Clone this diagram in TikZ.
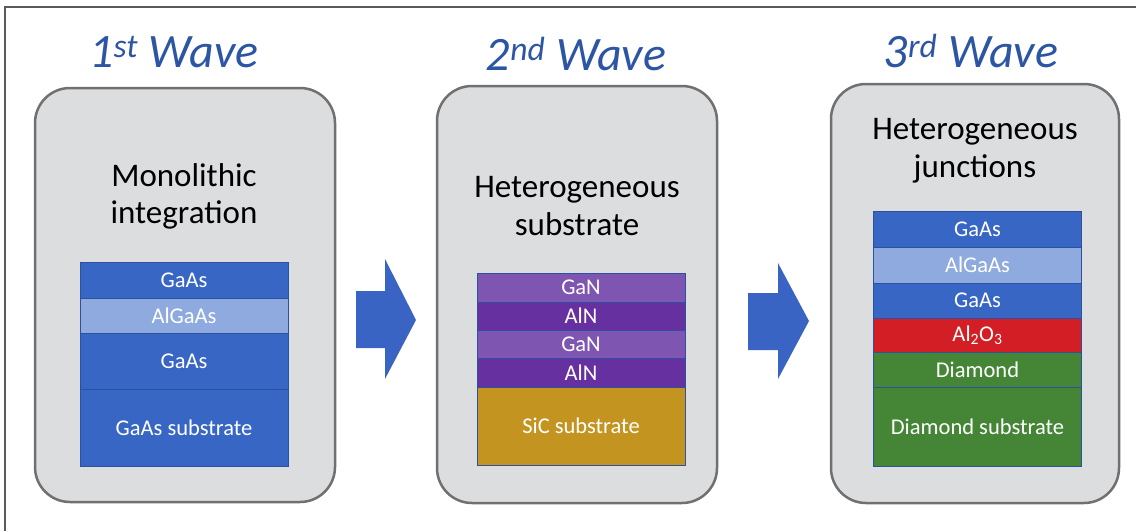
\documentclass[tikz,border=0pt]{standalone}
\usepackage{fontspec}
\setmainfont{Carlito}
\definecolor{framec}{RGB}{90,90,90}
\definecolor{panelfill}{RGB}{220,221,223}
\definecolor{panelline}{RGB}{112,112,112}
\definecolor{titlec}{RGB}{44,86,164}
\definecolor{arrowc}{RGB}{58,100,196}
\definecolor{gaas}{RGB}{56,102,196}
\definecolor{algaas}{RGB}{142,170,222}
\definecolor{gan}{RGB}{126,86,178}
\definecolor{aln}{RGB}{102,48,160}
\definecolor{sic}{RGB}{196,148,32}
\definecolor{alo}{RGB}{212,30,38}
\definecolor{diam}{RGB}{68,134,54}
\definecolor{sepc}{RGB}{46,80,160}
\tikzset{
  panel/.style={draw=panelline, line width=2.5pt, fill=panelfill, rounded corners=35pt, inner sep=0pt},
  wavetitle/.style={text=titlec, anchor=base, inner sep=0pt, font=\fontsize{48}{52}\selectfont\itshape},
  heading/.style={text=black, anchor=base, inner sep=0pt, font=\fontsize{33}{38}\selectfont},
  layer/.style={draw=sepc, line width=0.9pt, minimum width=208pt, inner sep=0pt, text=white, font=\fontsize{22.5}{26}\selectfont},
  bigarrow/.style={fill=arrowc, draw=none}
}
\begin{document}
\begin{tikzpicture}[x=1pt,y=-1pt]
\useasboundingbox (0,0) rectangle (1136,531);
\fill[white] (0,0) rectangle (1136,531);
\draw[framec, line width=1.5pt] (5,531) -- (5,7) -- (1136,7);

% panels
\node[panel, minimum width=300pt, minimum height=414pt] (p1) at (185,295) {};
\node[panel, minimum width=280pt, minimum height=417pt] (p2) at (577,294.5) {};
\node[panel, minimum width=288pt, minimum height=419pt] (p3) at (975,293.5) {};

% titles
\node[wavetitle] (t1) at (174,67) {1\textsuperscript{st} Wave};
\node[wavetitle] (t2) at (576,70) {2\textsuperscript{nd} Wave};
\node[wavetitle] (t3) at (971,67) {3\textsuperscript{rd} Wave};

% headings
\node[heading] (h1a) at (184,186) {Monolithic};
\node[heading] (h1b) at (184,223) {integration};
\node[heading] (h2a) at (577,197) {Heterogeneous};
\node[heading] (h2b) at (577,235) {substrate};
\node[heading] (h3a) at (975,139) {Heterogeneous};
\node[heading] (h3b) at (975,177) {junctions};

% stack 1
\node[layer, fill=gaas, minimum height=36pt] (a1) at (184,280) {GaAs};
\node[layer, fill=algaas, minimum height=35pt] (a2) at (184,315.5) {AlGaAs};
\node[layer, fill=gaas, minimum height=56pt] (a3) at (184,361) {GaAs};
\node[layer, fill=gaas, minimum height=77pt] (a4) at (184,427.5) {GaAs substrate};

% stack 2
\node[layer, fill=gan, minimum height=29pt] (b1) at (581,287.5) {GaN};
\node[layer, fill=aln, minimum height=28pt] (b2) at (581,316) {AlN};
\node[layer, fill=gan, minimum height=28pt] (b3) at (581,344) {GaN};
\node[layer, fill=aln, minimum height=29pt] (b4) at (581,372.5) {AlN};
\node[layer, fill=sic, minimum height=78pt] (b5) at (581,426) {SiC substrate};

% stack 3
\node[layer, fill=gaas, minimum height=36pt] (c1) at (977.5,229) {GaAs};
\node[layer, fill=algaas, minimum height=36pt] (c2) at (977.5,265) {AlGaAs};
\node[layer, fill=gaas, minimum height=35pt] (c3) at (977.5,300.5) {GaAs};
\node[layer, fill=alo, minimum height=34pt] (c4) at (977.5,335) {Al\textsubscript{2}O\textsubscript{3}};
\node[layer, fill=diam, minimum height=35pt] (c5) at (977.5,369.5) {Diamond};
\node[layer, fill=diam, minimum height=79pt] (c6) at (977.5,426.5) {Diamond substrate};

% block arrows
\fill[bigarrow] (356,291) -- (385,291) -- (385,259) -- (416,320) -- (385,379) -- (385,348) -- (356,348) -- cycle;
\fill[bigarrow] (748,293) -- (778,293) -- (778,263) -- (809,321) -- (778,379) -- (778,350) -- (748,350) -- cycle;
\end{tikzpicture}
\end{document}
